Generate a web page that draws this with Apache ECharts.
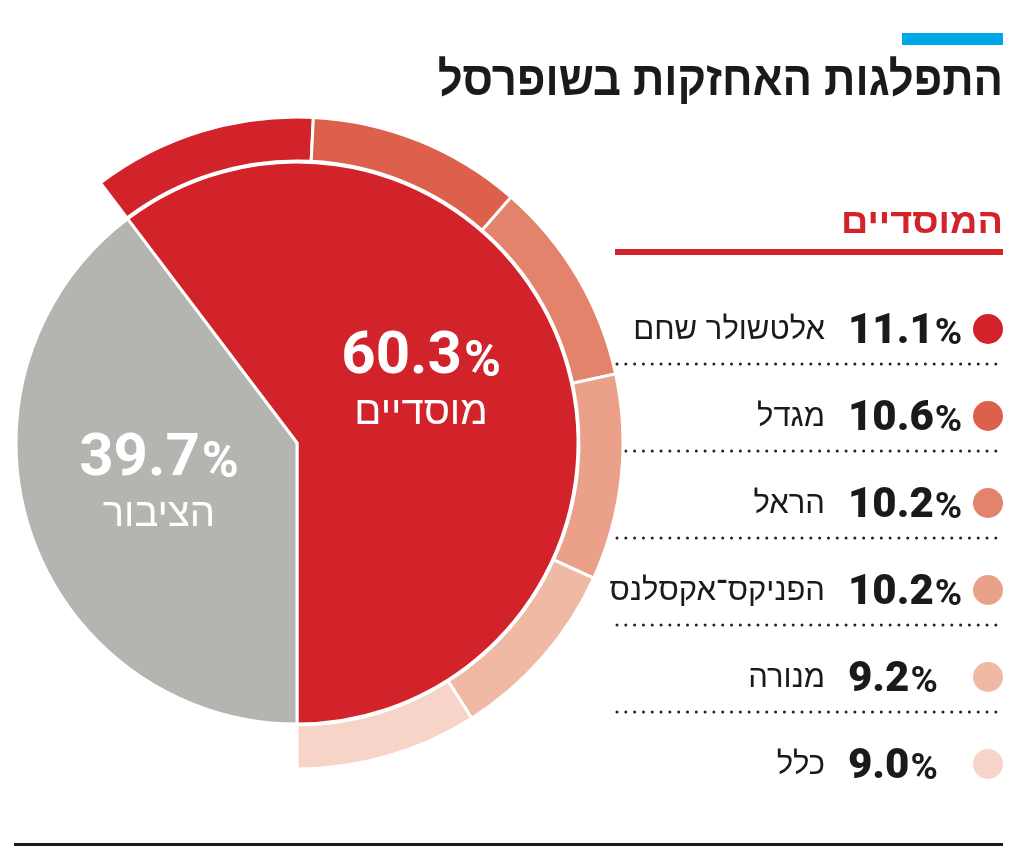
<!DOCTYPE html>
<html>
<head>
<meta charset="utf-8">
<script src="https://cdn.jsdelivr.net/npm/echarts@6/dist/echarts.min.js"></script>
<style>html,body{margin:0;padding:0;background:#fff;}#c{width:1024px;height:854px;}</style>
</head>
<body>
<div id="c"></div>
<script>
const titleText = 'התפלגות האחזקות בשופרסל';
const legendTitle = 'המוסדיים';
const groupNames = ['מוסדיים', 'הציבור'];
const groupValues = [60.3, 39.7];
const groupColors = ['#d2232a', '#b4b4b1'];
const institutionNames = ['אלטשולר שחם', 'מגדל', 'הראל', 'הפניקס־אקסלנס', 'מנורה', 'כלל'];
const institutionValues = [11.1, 10.6, 10.2, 10.2, 9.2, 9.0];
const institutionColors = ['#d2232a', '#dc604b', '#e4836b', '#eba189', '#f0b9a4', '#f6d4c7'];

const HEB = '"Liberation Sans", "DejaVu Sans", sans-serif';
const NUM = 'Roboto, "Liberation Sans", sans-serif';

const startAngle = -90 + groupValues[0] / 100 * 360;
const chart = echarts.init(document.getElementById('c'), null, {renderer: 'canvas'});

const labelOffsets = [[-12, -14], [-2, -4]];
const innerData = groupNames.map((n, i) => ({
  name: n, value: groupValues[i],
  itemStyle: {color: groupColors[i]},
  label: {offset: labelOffsets[i]}
}));
const outerData = institutionNames.map((n, i) => ({
  name: n, value: institutionValues[i], itemStyle: {color: institutionColors[i]}
}));
outerData.push({name: 'rest', value: groupValues[1], itemStyle: {color: 'rgba(0,0,0,0)', borderWidth: 0}, emphasis: {disabled: true}});

const graphics = [];
graphics.push({type: 'rect', shape: {x: 902, y: 33, width: 101, height: 12}, style: {fill: '#00a7e8'}});
graphics.push({type: 'text', x: 1003, y: 82, scaleX: 0.91, style: {text: titleText, font: 'bold 48px ' + HEB, fill: '#1a1a1a', align: 'right', verticalAlign: 'middle'}});
graphics.push({type: 'text', x: 1003, y: 223, scaleX: 1.08, style: {text: legendTitle, font: 'bold 35px ' + HEB, fill: '#d2232a', align: 'right', verticalAlign: 'middle'}});
graphics.push({type: 'rect', shape: {x: 615, y: 249, width: 388, height: 6}, style: {fill: '#d2232a'}});
graphics.push({type: 'rect', shape: {x: 14, y: 843, width: 989, height: 3}, style: {fill: '#1a1a1a'}});

const rowY0 = 329, rowStep = 87;
institutionNames.forEach((n, i) => {
  const y = rowY0 + i * rowStep;
  graphics.push({type: 'circle', shape: {cx: 988, cy: y, r: 15}, style: {fill: institutionColors[i]}});
  graphics.push({type: 'text', x: 848, y: y + 2, style: {
    text: '{v|' + institutionValues[i].toFixed(1) + '}{p|%}',
    align: 'left', verticalAlign: 'middle',
    rich: {
      v: {fontFamily: NUM, fontWeight: 900, fontSize: 42, fill: '#1a1a1a', verticalAlign: 'bottom', lineHeight: 44},
      p: {fontFamily: NUM, fontWeight: 'bold', fontSize: 37, fill: '#1a1a1a', verticalAlign: 'bottom', lineHeight: 44, padding: [0, 0, 0, 1]}
    }
  }});
  graphics.push({type: 'text', x: 825, y: y + 1, style: {text: n, font: '31px ' + HEB, fill: '#1a1a1a', align: 'right', verticalAlign: 'middle'}});
  if (i < institutionNames.length - 1) {
    graphics.push({type: 'line', shape: {x1: 617, y1: y + 35, x2: 1003, y2: y + 35},
      style: {stroke: '#222', lineWidth: 3, lineDash: [0.01, 8.8], lineCap: 'round'}});
  }
});

chart.setOption({
  animation: false,
  backgroundColor: '#fff',
  series: [
    {
      type: 'pie', center: [297, 443], radius: [0, 281],
      startAngle: startAngle, clockwise: true, silent: true,
      itemStyle: {borderColor: '#fff', borderWidth: 3},
      label: {
        position: 'inside', color: '#fff',
        formatter: p => '{v|' + p.value.toFixed(1) + '}{p|%}\n{n|' + p.name + '}',
        rich: {
          v: {fontFamily: NUM, fontWeight: 'bold', fontSize: 60, color: '#fff', verticalAlign: 'bottom', lineHeight: 60},
          p: {fontFamily: NUM, fontWeight: 'bold', fontSize: 50, color: '#fff', verticalAlign: 'bottom', lineHeight: 60, padding: [0, 0, 0, 2]},
          n: {fontFamily: HEB, fontSize: 40, color: '#fff', lineHeight: 50}
        }
      },
      labelLine: {show: false},
      data: innerData
    },
    {
      type: 'pie', center: [297, 443], radius: [282, 326],
      startAngle: startAngle, clockwise: true, silent: true,
      itemStyle: {borderColor: '#fff', borderWidth: 3},
      label: {show: false}, labelLine: {show: false},
      data: outerData
    }
  ],
  graphic: graphics
});
</script>
</body>
</html>
